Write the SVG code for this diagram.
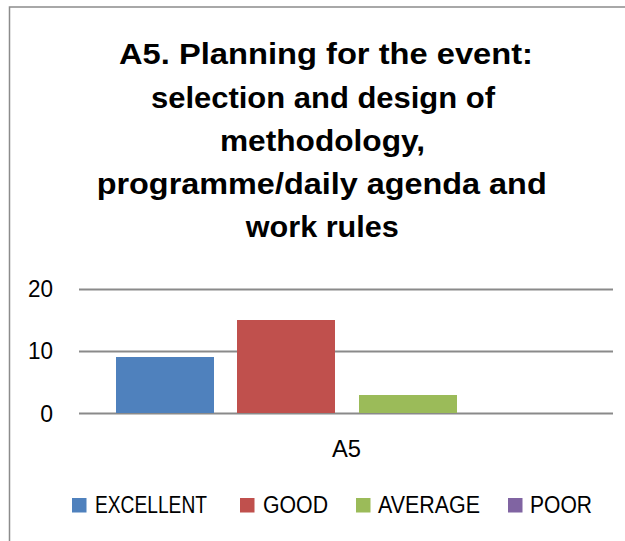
<svg xmlns="http://www.w3.org/2000/svg" width="625" height="541" viewBox="0 0 625 541">
<style>
.title{font-family:"Liberation Sans",Arial,sans-serif;font-weight:bold;font-size:29.5px;fill:#000;text-anchor:middle}
.lbl{font-family:"Liberation Sans",Arial,sans-serif;font-size:23px;fill:#000}
.grid{stroke:#8a8a8a;stroke-width:2;fill:none}
.leg{font-family:"Liberation Sans",Arial,sans-serif;font-size:23.5px;fill:#000}
</style>
<rect x="0" y="0" width="625" height="541" fill="#fff"/>
<rect x="9.5" y="7" width="630" height="550" fill="none" stroke="#8c8c8c" stroke-width="1.5"/>
<g id="title">
<text class="title" x="326" y="64" textLength="414" lengthAdjust="spacingAndGlyphs">A5. Planning for the event:</text>
<text class="title" x="323" y="107.5" textLength="344" lengthAdjust="spacingAndGlyphs">selection and design of</text>
<text class="title" x="322.5" y="150.5" textLength="205" lengthAdjust="spacingAndGlyphs">methodology,</text>
<text class="title" x="321.7" y="193.5" textLength="450" lengthAdjust="spacingAndGlyphs">programme/daily agenda and</text>
<text class="title" x="322.3" y="237" textLength="153" lengthAdjust="spacingAndGlyphs">work rules</text>
</g>
<g id="gridlines">
<line class="grid" x1="79" y1="289.5" x2="613" y2="289.5"/>
<line class="grid" x1="79" y1="351.5" x2="613" y2="351.5"/>
<line class="grid" x1="79" y1="413.5" x2="613" y2="413.5"/>
</g>
<g id="y-axis-labels">
<text class="lbl" x="53" y="297" text-anchor="end" textLength="25" lengthAdjust="spacingAndGlyphs">20</text>
<text class="lbl" x="53" y="359" text-anchor="end" textLength="25" lengthAdjust="spacingAndGlyphs">10</text>
<text class="lbl" x="53" y="421.5" text-anchor="end">0</text>
</g>
<g id="bars">
<rect id="bar-excellent" x="116" y="357" width="98" height="56" fill="#4F81BD"/>
<rect id="bar-good" x="237" y="320" width="98" height="93" fill="#C0504D"/>
<rect id="bar-average" x="359" y="395" width="98" height="18" fill="#9BBB59"/>
</g>
<text class="lbl" x="346.5" y="456.5" text-anchor="middle" textLength="29" lengthAdjust="spacingAndGlyphs">A5</text>
<g id="legend">
<rect x="72" y="498" width="14.5" height="14.5" fill="#4F81BD"/>
<text class="leg" x="95" y="513" textLength="112" lengthAdjust="spacingAndGlyphs">EXCELLENT</text>
<rect x="240" y="498" width="14.5" height="14.5" fill="#C0504D"/>
<text class="leg" x="263" y="513" textLength="65" lengthAdjust="spacingAndGlyphs">GOOD</text>
<rect x="356" y="498" width="14.5" height="14.5" fill="#9BBB59"/>
<text class="leg" x="378" y="513" textLength="102" lengthAdjust="spacingAndGlyphs">AVERAGE</text>
<rect x="508" y="498" width="14.5" height="14.5" fill="#8064A2"/>
<text class="leg" x="530" y="513" textLength="62" lengthAdjust="spacingAndGlyphs">POOR</text>
</g>
</svg>
